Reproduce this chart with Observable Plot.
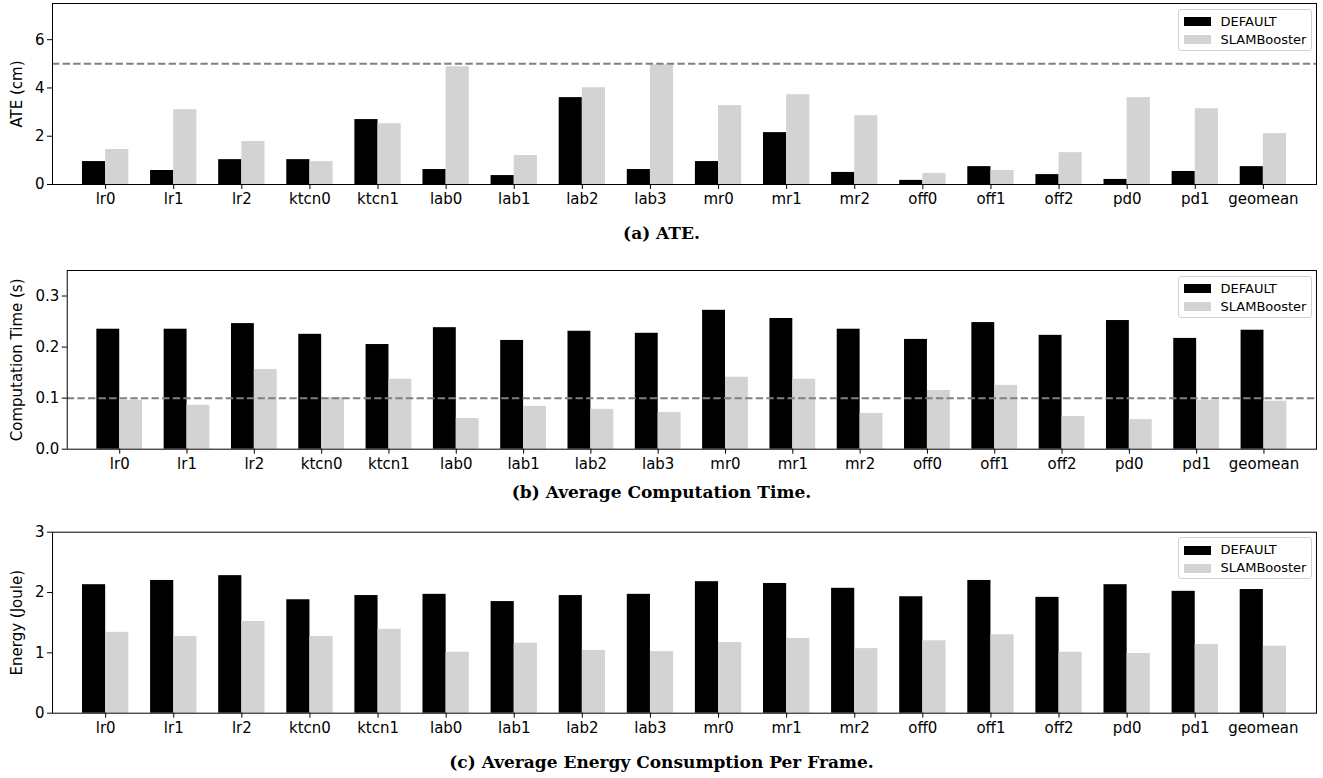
<!DOCTYPE html>
<html>
<head>
<meta charset="utf-8">
<script src="https://cdn.jsdelivr.net/npm/d3@7"></script>
<script src="https://cdn.jsdelivr.net/npm/@observablehq/plot@0.6"></script>
<style>
  body { margin: 0; background: #fff; }
  #wrap { position: relative; width: 1323px; height: 778px; overflow: hidden; font-family: "DejaVu Sans"; }
  .panel { position: absolute; left: 0; }
  .caption { position: absolute; left: 0; width: 1323px; text-align: center; font-family: "DejaVu Serif"; font-weight: bold; font-size: 17px; line-height: 20px; color: #000; }
  .legend { position: absolute; left: 1177.5px; width: 132px; height: 40px; border: 1px solid #d2d2d2; border-radius: 3px; background: rgba(255,255,255,0.8); }
  .sw { position: absolute; left: 5px; width: 27px; height: 9px; }
  .lt { position: absolute; left: 42px; font-size: 13px; line-height: 16px; color: #000; white-space: nowrap; }
</style>
</head>
<body>
<div id="wrap"></div>
<script>
// ---- data ----
const categories = ["lr0","lr1","lr2","ktcn0","ktcn1","lab0","lab1","lab2","lab3","mr0","mr1","mr2","off0","off1","off2","pd0","pd1","geomean"];
const seriesNames = ["DEFAULT", "SLAMBooster"];

const ateDefault = [0.95,0.58,1.03,1.03,2.69,0.62,0.37,3.60,0.62,0.95,2.15,0.50,0.17,0.74,0.41,0.21,0.54,0.74];
const ateSlam    = [1.45,3.10,1.78,0.95,2.52,4.88,1.20,4.01,4.96,3.27,3.72,2.85,0.46,0.58,1.32,3.60,3.14,2.11];

const timeDefault = [0.235,0.235,0.246,0.225,0.205,0.238,0.213,0.231,0.227,0.272,0.256,0.235,0.215,0.248,0.223,0.252,0.217,0.233];
const timeSlam    = [0.096,0.086,0.156,0.101,0.137,0.060,0.084,0.078,0.072,0.141,0.137,0.070,0.115,0.125,0.064,0.058,0.096,0.094];

const energyDefault = [2.13,2.20,2.28,1.88,1.95,1.97,1.85,1.95,1.97,2.18,2.15,2.07,1.93,2.20,1.92,2.13,2.02,2.05];
const energySlam    = [1.34,1.27,1.52,1.27,1.39,1.01,1.16,1.04,1.02,1.17,1.24,1.07,1.20,1.30,1.01,0.99,1.14,1.11];

const ateTicks = [0, 2, 4, 6];
const timeTicks = [0, 0.1, 0.2, 0.3];
const energyTicks = [0, 1, 2, 3];

const captions = ["(a) ATE.", "(b) Average Computation Time.", "(c) Average Energy Consumption Per Frame."];
const yLabels = ["ATE (cm)", "Computation Time (s)", "Energy (Joule)"];
const refLines = [5, 0.1, null];

// ---- drawing ----
const wrap = document.getElementById("wrap");
const n = categories.length;
const barW = 0.34;
const xDomain = [-0.78, n - 1 + 0.78];
const colors = ["#000000", "#d3d3d3"];

function drawPanel(cfg) {
  const rows = categories.map((c, i) => ({i, cat: c, a: cfg.a[i], b: cfg.b[i]}));
  const marginBottom = 34;
  const marks = [
    Plot.rect(rows, {x1: d => d.i - barW, x2: d => d.i, y1: 0, y2: "a", fill: colors[0]}),
    Plot.rect(rows, {x1: d => d.i, x2: d => d.i + barW, y1: 0, y2: "b", fill: colors[1]})
  ];
  if (cfg.ref != null) {
    marks.push(Plot.ruleY([cfg.ref], {stroke: "#808080", strokeWidth: 2, strokeDasharray: "7.4,3.2"}));
  }
  marks.push(
    Plot.frame({stroke: "#000", strokeWidth: 1}),
    Plot.axisX({ticks: d3.range(n), tickFormat: i => categories[i], tickSize: 5, tickPadding: 4, label: null}),
    Plot.axisY({ticks: cfg.ticks, tickFormat: cfg.fmt, tickSize: 5, tickPadding: 3, label: null}),
    Plot.text([cfg.label], {text: d => d, frameAnchor: "left", textAnchor: "middle", lineAnchor: "middle",
      dx: 17 - cfg.marginLeft, rotate: -90, fontSize: 15})
  );
  const chart = Plot.plot({
    width: 1323,
    height: cfg.marginTop + cfg.frameH + marginBottom,
    marginLeft: cfg.marginLeft,
    marginRight: 7,
    marginTop: cfg.marginTop,
    marginBottom,
    x: {domain: xDomain, axis: null},
    y: {domain: cfg.domain, axis: null},
    style: {fontFamily: "DejaVu Sans", fontSize: "15px", color: "#000", background: "transparent", overflow: "visible"},
    marks
  });
  const div = document.createElement("div");
  div.className = "panel";
  div.style.top = cfg.top + "px";
  div.appendChild(chart);
  wrap.appendChild(div);

  // legend
  const lg = document.createElement("div");
  lg.className = "legend";
  lg.style.top = (cfg.top + cfg.marginTop + 5.5) + "px";
  seriesNames.forEach((name, k) => {
    const sw = document.createElement("div");
    sw.className = "sw";
    sw.style.top = (7.5 + k * 18) + "px";
    sw.style.background = colors[k];
    lg.appendChild(sw);
    const t = document.createElement("div");
    t.className = "lt";
    t.style.top = (4 + k * 18) + "px";
    t.textContent = name;
    lg.appendChild(t);
  });
  wrap.appendChild(lg);

  // caption
  const cap = document.createElement("div");
  cap.className = "caption";
  cap.style.top = (cfg.capY - 10) + "px";
  cap.textContent = cfg.caption;
  wrap.appendChild(cap);
}

drawPanel({a: ateDefault, b: ateSlam, domain: [0, 7.5], ticks: ateTicks, fmt: d3.format("d"),
  label: yLabels[0], ref: refLines[0], marginLeft: 52, marginTop: 3, frameH: 181, top: 0,
  caption: captions[0], capY: 233});
drawPanel({a: timeDefault, b: timeSlam, domain: [0, 0.35], ticks: timeTicks, fmt: d3.format(".1f"),
  label: yLabels[1], ref: refLines[1], marginLeft: 66.7, marginTop: 8, frameH: 178.7, top: 262,
  caption: captions[1], capY: 491.5});
drawPanel({a: energyDefault, b: energySlam, domain: [0, 3], ticks: energyTicks, fmt: d3.format("d"),
  label: yLabels[2], ref: refLines[2], marginLeft: 52, marginTop: 7.7, frameH: 181, top: 524,
  caption: captions[2], capY: 761.5});
</script>
</body>
</html>
